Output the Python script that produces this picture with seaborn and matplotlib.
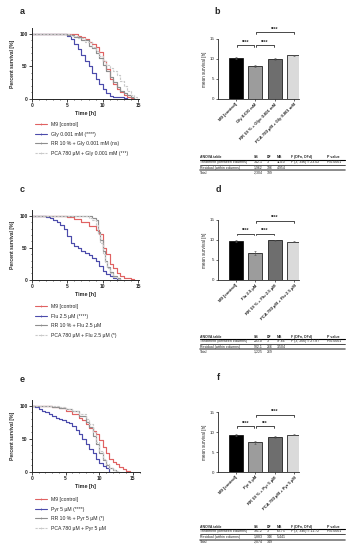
import numpy as np
import pandas as pd
import matplotlib
matplotlib.use('Agg')
import matplotlib.pyplot as plt
import seaborn as sns
from matplotlib.lines import Line2D
from matplotlib.ticker import MultipleLocator

sns.set_theme(style='ticks')
plt.rcParams['font.family'] = ['Liberation Sans', 'DejaVu Sans']

# ---------------- data ----------------
# Panel a (Gly) survival step points (time h, percent)
a_m9_t = [0, 5.5, 6, 6.5, 7, 7.5, 8, 8.5, 9, 9.5, 10, 10.5, 11, 11.5, 12, 12.5, 13, 13.5, 14, 14.5]
a_m9_s = [100, 100, 99, 97, 95, 92, 88, 84, 79, 72, 58, 45, 30, 22, 15, 10, 6, 3, 1, 0]
a_gly_t = [0, 4.5, 5, 5.5, 6, 6.5, 7, 7.5, 8, 8.5, 9, 9.5, 10, 10.5, 11, 11.5, 12, 13, 13.5]
a_gly_s = [100, 100, 96, 92, 85, 76, 68, 58, 50, 40, 30, 22, 15, 8, 4, 3, 2, 1, 0]
a_rr_t = [0, 4, 5, 6, 7, 8, 8.5, 9, 9.5, 10, 10.5, 11, 11.5, 12, 12.5, 13, 13.5, 14, 14.5]
a_rr_s = [100, 100, 98, 95, 90, 82, 78, 70, 62, 52, 42, 33, 25, 18, 12, 8, 5, 2, 0]
a_pca_t = [0, 3.5, 4.5, 5.5, 6.5, 7.5, 8.5, 9, 9.5, 10, 10.5, 11, 11.5, 12, 12.5, 13, 13.5, 14, 14.5, 14.8]
a_pca_s = [100, 100, 99, 97, 93, 88, 80, 74, 66, 58, 52, 47, 42, 36, 28, 20, 12, 6, 2, 0]

# Panel c (Flu)
c_m9_t = [0, 4, 5, 6, 7, 8, 9, 9.5, 10, 10.5, 11, 11.5, 12, 12.5, 13, 14, 14.5]
c_m9_s = [100, 100, 98, 95, 90, 84, 77, 72, 50, 40, 25, 18, 10, 6, 3, 1, 0]
c_flu_t = [0, 1.5, 2, 2.5, 3, 3.5, 4, 4.5, 5, 5.5, 6, 6.5, 7, 7.5, 8, 8.5, 9, 9.5, 10, 10.5, 11, 11.5, 12, 12.5]
c_flu_s = [100, 100, 98, 96, 93, 90, 85, 80, 68, 58, 52, 49, 45, 42, 38, 34, 30, 22, 14, 9, 5, 2, 1, 0]
c_rr_t = [0, 7, 8, 8.5, 9, 9.3, 9.6, 10, 10.3, 10.6, 11, 11.5, 12, 12.5]
c_rr_s = [100, 100, 99, 97, 94, 75, 62, 45, 30, 20, 12, 5, 2, 0]
c_pca_t = [0, 6, 7, 8, 8.5, 9, 9.3, 9.6, 10, 10.3, 10.6, 11, 11.5, 12, 12.5]
c_pca_s = [100, 100, 99, 97, 94, 85, 72, 58, 40, 28, 18, 10, 4, 1, 0]

# Panel e (Pyr)
e_m9_t = [0, 2, 3, 4, 5, 6, 7, 7.5, 8, 8.5, 9, 9.5, 10, 10.5, 11, 11.5, 12, 12.5, 13, 13.5, 14, 14.5]
e_m9_s = [100, 100, 99, 97, 93, 88, 82, 78, 73, 67, 62, 57, 48, 38, 28, 20, 15, 11, 7, 4, 1, 0]
e_pyr_t = [0, 0.5, 1, 1.5, 2, 2.5, 3, 3.5, 4, 4.5, 5, 5.5, 6, 6.5, 7, 7.5, 8, 8.5, 9, 9.5, 10, 10.5, 11, 11.5]
e_pyr_s = [100, 98, 96, 93, 90, 87, 84, 82, 80, 78, 76, 74, 70, 64, 58, 50, 42, 35, 28, 20, 13, 8, 5, 0]
e_rr_t = [0, 2, 3, 4, 5, 6, 7, 8, 8.5, 9, 9.5, 10, 10.5, 11, 11.5, 12, 12.5]
e_rr_s = [100, 100, 98, 97, 95, 92, 85, 75, 68, 55, 42, 28, 18, 10, 5, 2, 0]
e_pca_t = [0, 3, 4, 5, 6, 7, 8, 8.5, 9, 9.5, 10, 10.5, 11, 11.5, 12, 12.5, 13]
e_pca_s = [100, 100, 98, 96, 93, 88, 80, 72, 60, 45, 32, 20, 12, 6, 3, 1, 0]

a_labels = ['M9 [control]', 'Gly 0.001 mM (****)', 'RR 10 % + Gly 0.001 mM (ns)', 'PCA 780 µM + Gly 0.001 mM (***)']
c_labels = ['M9 [control]', 'Flu 2.5 µM (****)', 'RR 10 % + Flu 2.5 µM', 'PCA 780 µM + Flu 2.5 µM (*)']
e_labels = ['M9 [control]', 'Pyr 5 µM (****)', 'RR 10 % + Pyr 5 µM (*)', 'PCA 780 µM + Pyr 5 µM']

# Bar panels: mean survival [h]
b_cats = ['M9 [control]', 'Gly 0.001 mM', 'RR 10 % + Glyc 0.001 mM', 'PCA 780 µM + Gly 0.001 mM']
b_vals = [10.2, 8.2, 10.0, 10.9]
b_errs = [0.2, 0.25, 0.25, 0.2]
d_cats = ['M9 [control]', 'Flu 2.5 µM', 'RR 10 % + Flu 2.5 µM', 'PCA 780 µM + Flu 2.5 µM']
d_vals = [9.7, 6.7, 9.9, 9.6]
d_errs = [0.2, 0.5, 0.12, 0.1]
f_cats = ['M9 [control]', 'Pyr 5 µM', 'RR 10 % + Pyr 5 µM', 'PCA 780 µM + Pyr 5 µM']
f_vals = [9.2, 7.4, 8.8, 9.3]
f_errs = [0.3, 0.3, 0.2, 0.15]

# significance brackets: (bar i, bar j, level, label)
b_sig = [(0, 1, 13.5, '****'), (1, 2, 13.5, '****'), (1, 3, 16.7, '****')]
d_sig = [(0, 1, 11.6, '****'), (1, 2, 11.6, '****'), (1, 3, 14.8, '****')]
f_sig = [(0, 1, 11.4, '****'), (1, 2, 11.4, '***'), (1, 3, 14.3, '****')]

# ANOVA tables
b_table = [['ANOVA table', 'SS', 'DF', 'MS', 'F (DFn, DFd)', 'P value'],
           ['Treatment (between columns)', '342.1', '3', '114.0', 'F (3, 396) = 23.02', 'P<0.0001'],
           ['Residual (within columns)', '1,962', '396', '4.954', '', ''],
           ['Total', '2,304', '399', '', '', '']]
d_table = [['ANOVA table', 'SS', 'DF', 'MS', 'F (DFn, DFd)', 'P value'],
           ['Treatment (between columns)', '293.0', '3', '97.66', 'F (3, 266) = 27.87', 'P<0.0001'],
           ['Residual (within columns)', '932.1', '266', '3.504', '', ''],
           ['Total', '1,225', '269', '', '', '']]
f_table = [['ANOVA table', 'SS', 'DF', 'MS', 'F (DFn, DFd)', 'P value'],
           ['Treatment (between columns)', '191.2', '3', '63.75', 'F (3, 346) = 11.72', 'P<0.0001'],
           ['Residual (within columns)', '1,883', '346', '5.441', '', ''],
           ['Total', '2,074', '349', '', '', '']]

# ---------------- style ----------------
W, H = 354, 550
fig = plt.figure(figsize=(W / 100, H / 100), dpi=100)
fig.patch.set_facecolor('white')

line_colors = ['#e06262', '#4b4bab', '#8e8e8e', '#c9c9c9']
line_styles = ['-', '-', '-', (0, (2, 1))]
bar_colors = ['#000000', '#9c9c9c', '#6e6e6e', '#dadada']


def axpx(l, t, r, b):
    return fig.add_axes([l / W, 1 - b / H, (r - l) / W, (b - t) / H])


def fx(x):
    return x / W


def fy(y):
    return 1 - y / H


def survival(ax, curves, labels, xmax, legend_top):
    handles = []
    for (t, s), col, ls, lab in zip(curves, line_colors, line_styles, labels):
        df = pd.DataFrame({'t': t, 's': s})
        sns.lineplot(data=df, x='t', y='s', ax=ax, color=col, linestyle=ls,
                     lw=0.85, drawstyle='steps-post', estimator=None, sort=False)
        handles.append(Line2D([], [], color=col, linestyle=ls, lw=0.8,
                              marker='+', markersize=2, markeredgewidth=0.5))
    ax.set_xlim(0, xmax)
    ax.set_ylim(-0.5, 109)
    ax.set_xticks([0, 5, 10, 15])
    ax.set_yticks([0, 50, 100])
    ax.xaxis.set_minor_locator(MultipleLocator(1))
    ax.yaxis.set_minor_locator(MultipleLocator(10))
    ax.tick_params(which='major', length=2, width=0.6, labelsize=3.5, pad=1.2)
    ax.tick_params(which='minor', length=1, width=0.5)
    for lab in ax.get_xticklabels() + ax.get_yticklabels():
        lab.set_fontweight('bold')
    ax.set_xlabel('Time [h]', fontsize=3.9, fontweight='bold', labelpad=2)
    ax.set_ylabel('Percent survival [%]', fontsize=3.6, fontweight='bold', labelpad=3)
    sns.despine(ax=ax)
    for sp in ['left', 'bottom']:
        ax.spines[sp].set_linewidth(0.7)
    ax.legend(handles, labels, loc='upper left', bbox_to_anchor=(fx(35), fy(legend_top)),
              bbox_transform=fig.transFigure, frameon=False, fontsize=3.7,
              handlelength=2.4, handletextpad=0.8, labelspacing=0.9,
              borderaxespad=0, borderpad=0)


def bars(ax, cats, vals, errs, sig):
    df = pd.DataFrame({'c': cats, 'v': vals})
    sns.barplot(data=df, x='c', y='v', hue='c', palette=bar_colors, ax=ax,
                edgecolor='black', linewidth=0.5, width=0.72, legend=False, errorbar=None)
    ax.errorbar(range(len(vals)), vals, yerr=errs, fmt='none', ecolor='#555555',
                elinewidth=0.4, capsize=1.0, capthick=0.4)
    ax.set_xlim(-0.91, 3.24)
    ax.set_ylim(0, 15)
    ax.set_yticks([0, 5, 10, 15])
    ax.set_xlabel('')
    ax.set_ylabel('mean survival [h]', fontsize=3.3, labelpad=2)
    ax.tick_params(length=1.5, width=0.5, labelsize=3.2, pad=1)
    ax.set_xticks(range(len(cats)))
    ax.set_xticklabels(cats, rotation=45, ha='right', rotation_mode='anchor',
                       fontsize=3.1, fontweight='bold')
    sns.despine(ax=ax)
    for sp in ['left', 'bottom']:
        ax.spines[sp].set_linewidth(0.6)
    for i, j, lev, txt in sig:
        h = 0.45
        ax.plot([i + 0.04, i + 0.04, j - 0.04, j - 0.04], [lev - h, lev, lev, lev - h],
                color='black', lw=0.5, clip_on=False)
        ax.text((i + j) / 2, lev + 0.1, txt, ha='center', va='bottom', fontsize=3.4,
                fontweight='bold')


def table(rows, ys, lines):
    cols = [200, 254, 267, 277, 291, 327]
    for r, y in zip(rows, ys):
        for c, x in zip(r, cols):
            fig.text(fx(x), fy(y), c, fontsize=2.5, va='center', ha='left',
                     fontweight='bold' if r is rows[0] else 'normal')
    for y, lw, col in lines:
        fig.add_artist(Line2D([fx(200), fx(345)], [fy(y), fy(y)], lw=lw, color=col,
                              transform=fig.transFigure))


# ---------------- panels ----------------
ax_a = axpx(32, 28, 32 + 106 * 15.2 / 15, 99)
survival(ax_a, [(a_m9_t, a_m9_s), (a_gly_t, a_gly_s), (a_rr_t, a_rr_s), (a_pca_t, a_pca_s)],
         a_labels, 15.2, 122)
ax_c = axpx(32, 210, 32 + 106 * 15.2 / 15, 280)
survival(ax_c, [(c_m9_t, c_m9_s), (c_flu_t, c_flu_s), (c_rr_t, c_rr_s), (c_pca_t, c_pca_s)],
         c_labels, 15.2, 304)
ax_e = axpx(32, 400, 32 + 6.73 * 16, 472)
survival(ax_e, [(e_m9_t, e_m9_s), (e_pyr_t, e_pyr_s), (e_rr_t, e_rr_s), (e_pca_t, e_pca_s)],
         e_labels, 16, 497)

ax_b = axpx(218, 39, 299, 99)
bars(ax_b, b_cats, b_vals, b_errs, b_sig)
ax_d = axpx(218, 220, 299, 280)
bars(ax_d, d_cats, d_vals, d_errs, d_sig)
ax_f = axpx(218, 412, 299, 472)
bars(ax_f, f_cats, f_vals, f_errs, f_sig)

table(b_table, [157.3, 162, 167.7, 173],
      [(159.7, 0.8, 'black'), (164.7, 0.5, 'black'), (170, 1.2, '#777777')])
table(d_table, [336.7, 341.3, 347, 352],
      [(339, 0.8, 'black'), (344, 0.5, 'black'), (349.3, 1.2, '#777777')])
table(f_table, [526.7, 531.3, 537, 542],
      [(529, 0.8, 'black'), (534, 0.5, 'black'), (539.7, 1.2, '#777777')])

for lab, x, y in [('a', 22, 11), ('b', 217, 12), ('c', 22, 190), ('d', 218, 189),
                  ('e', 22, 380), ('f', 218, 378)]:
    fig.text(fx(x), fy(y), lab, fontsize=6.5, fontweight='bold', va='center', ha='center')

fig.savefig('out.png', dpi=100)
